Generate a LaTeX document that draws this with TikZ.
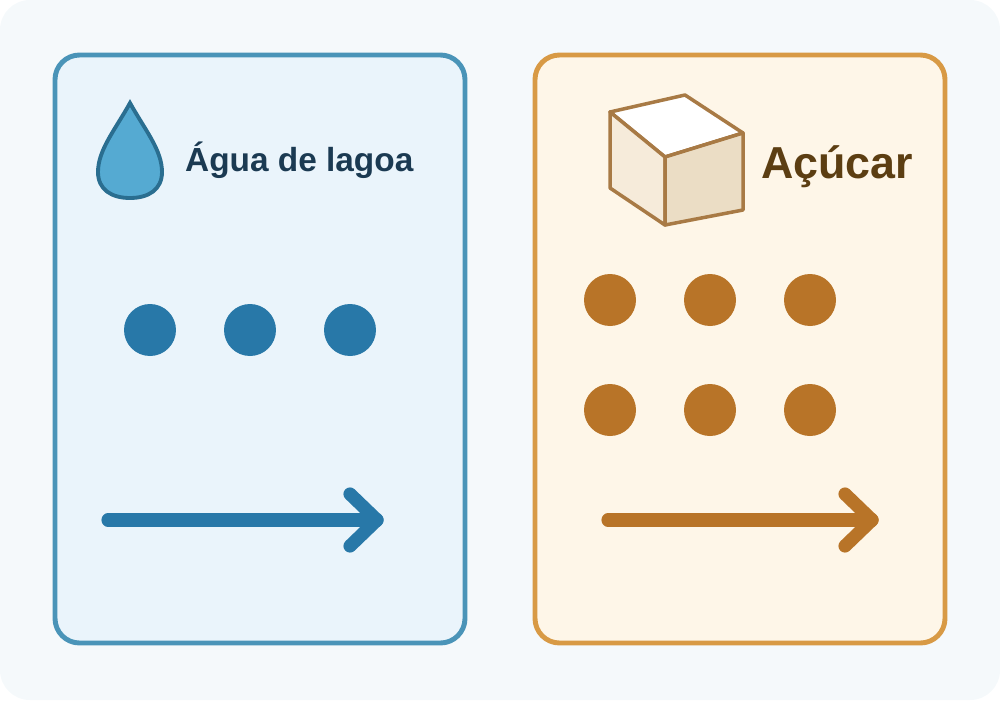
\documentclass[tikz,border=0pt]{standalone}
\usepackage{fontspec}
\setmainfont{Liberation Sans}
\usetikzlibrary{positioning}
\definecolor{bgcolor}{HTML}{F5F9FB}
\definecolor{waterline}{HTML}{4A94B8}
\definecolor{waterfill}{HTML}{EAF4FB}
\definecolor{waterdot}{HTML}{2878A8}
\definecolor{watertext}{HTML}{1B3A52}
\definecolor{dropfill}{HTML}{55AAD2}
\definecolor{dropline}{HTML}{2A6E90}
\definecolor{sugarline}{HTML}{D89A45}
\definecolor{sugarfill}{HTML}{FEF6E8}
\definecolor{sugardot}{HTML}{B87428}
\definecolor{sugartext}{HTML}{5C3E12}
\definecolor{cubeline}{HTML}{A87A45}
\definecolor{cubeleft}{HTML}{F6EBDA}
\definecolor{cuberight}{HTML}{EBDDC5}
\begin{document}
\begin{tikzpicture}[x=0.02cm, y=-0.02cm,
    panel/.style={line width=2.8pt, rounded corners=14pt},
    particle/.style={circle, minimum size=1.04cm, inner sep=0pt},
    flow/.style={line width=7.5pt, line cap=round, line join=round},
    title/.style={font=\bfseries, anchor=west}
]

% Background
\fill[bgcolor, rounded corners=17pt] (0,0) rectangle (1000,700);
\useasboundingbox (0,0) rectangle (1000,700);

% Panels
\draw[panel, draw=waterline, fill=waterfill] (55,55) rectangle (465,643);
\draw[panel, draw=sugarline, fill=sugarfill] (535,55) rectangle (945,643);

% Water drop
\draw[line width=2.2pt, draw=dropline, fill=dropfill]
  (130,103) .. controls (115,130) and (98,150) .. (98,172)
  .. controls (98,190) and (112,198) .. (130,198)
  .. controls (148,198) and (162,190) .. (162,172)
  .. controls (162,150) and (145,130) .. (130,103) -- cycle;
\node[title, text=watertext, font=\fontsize{19}{22}\selectfont\bfseries] (watertitle) at (179,160) {Água de lagoa};

% Sugar cube
\begin{scope}[line width=2pt, draw=cubeline, line join=round]
\filldraw[fill=white] (610,112) -- (685,95) -- (743,133) -- (665,157) -- cycle;
\filldraw[fill=cubeleft] (610,112) -- (665,157) -- (665,225) -- (610,188) -- cycle;
\filldraw[fill=cuberight] (665,157) -- (743,133) -- (743,210) -- (665,225) -- cycle;
\end{scope}
\node[title, text=sugartext, font=\fontsize{25.5}{30}\selectfont\bfseries] (sugartitle) at (755,167) {Açúcar};

% Particles
\foreach \i/\x in {1/150, 2/250, 3/350}
  \node[particle, fill=waterdot] (w\i) at (\x,330) {};
\foreach \i/\x in {1/610, 2/710, 3/810} {
  \node[particle, fill=sugardot] (st\i) at (\x,300) {};
  \node[particle, fill=sugardot] (sb\i) at (\x,410) {};
}

% Arrows
\coordinate (wstart) at (108,520);
\coordinate (wend) at (377,520);
\draw[flow, draw=waterdot] (wstart) -- (wend);
\draw[flow, draw=waterdot] (350,494) -- (wend) -- (350,546);
\coordinate (sstart) at (608,520);
\coordinate (send) at (872,520);
\draw[flow, draw=sugardot] (sstart) -- (send);
\draw[flow, draw=sugardot] (845,494) -- (send) -- (845,546);

\end{tikzpicture}
\end{document}
